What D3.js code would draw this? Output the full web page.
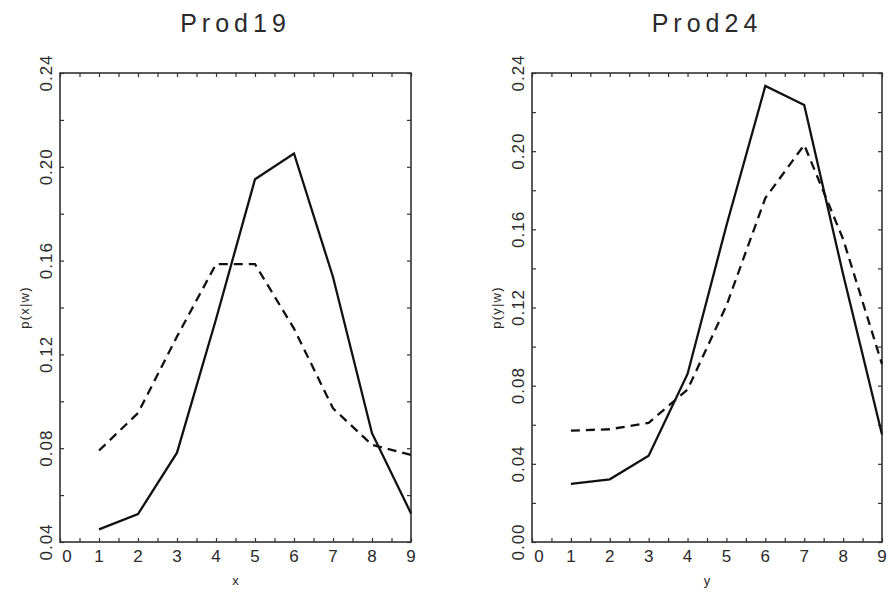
<!DOCTYPE html>
<html>
<head>
<meta charset="utf-8">
<script src="https://cdn.jsdelivr.net/npm/d3@7"></script>
<style>
  html, body { margin: 0; padding: 0; background: #fff; }
  svg { display: block; }
  text { font-family: "Liberation Sans", Arial, sans-serif; fill: #2a2a2a; }
</style>
</head>
<body>
<svg id="chart" width="889" height="593"></svg>
<script>
// ---- data ----
const xValues = [1, 2, 3, 4, 5, 6, 7, 8, 9];
const xTickLabels = [0, 1, 2, 3, 4, 5, 6, 7, 8, 9];

const prod19Title = "Prod19";
const prod19XLabel = "x";
const prod19YLabel = "p(x|w)";
const prod19Solid  = [0.0454, 0.0519, 0.0781, 0.1350, 0.1947, 0.2057, 0.1530, 0.0864, 0.0522];
const prod19Dashed = [0.0790, 0.0950, 0.1276, 0.1585, 0.1585, 0.1310, 0.0970, 0.0814, 0.0771];
const prod19YTicks = [0.04, 0.08, 0.12, 0.16, 0.20, 0.24];

const prod24Title = "Prod24";
const prod24XLabel = "y";
const prod24YLabel = "p(y|w)";
const prod24Solid  = [0.0297, 0.0321, 0.0442, 0.0860, 0.1620, 0.2334, 0.2236, 0.1370, 0.0550];
const prod24Dashed = [0.0570, 0.0577, 0.0610, 0.0780, 0.1210, 0.1760, 0.2032, 0.1550, 0.0910];
const prod24YTicks = [0.00, 0.04, 0.08, 0.12, 0.16, 0.20, 0.24];

const svg = d3.select("#chart");

function panel(opts) {
  const { left, right, top, bottom, yDomain, yTicks, title, xLabel, yLabel, solid, dashed } = opts;
  const x = d3.scaleLinear().domain([0, 9]).range([left, right]);
  const y = d3.scaleLinear().domain(yDomain).range([bottom, top]);
  const g = svg.append("g");

  const xMinor = d3.range(0, 9.0001, 0.5);
  const yMinor = d3.range(yDomain[0], yDomain[1] + 1e-9, 0.02);

  // inward ticks, all four sides
  const tk = 4;
  g.append("g").attr("transform", `translate(0,${bottom})`)
    .call(d3.axisBottom(x).tickValues(xMinor).tickSize(-tk).tickFormat(""))
    .call(s => s.select(".domain").remove());
  g.append("g").attr("transform", `translate(0,${top})`)
    .call(d3.axisTop(x).tickValues(xMinor).tickSize(-tk).tickFormat(""))
    .call(s => s.select(".domain").remove());
  g.append("g").attr("transform", `translate(${left},0)`)
    .call(d3.axisLeft(y).tickValues(yMinor).tickSize(-tk).tickFormat(""))
    .call(s => s.select(".domain").remove());
  g.append("g").attr("transform", `translate(${right},0)`)
    .call(d3.axisRight(y).tickValues(yMinor).tickSize(-tk).tickFormat(""))
    .call(s => s.select(".domain").remove());
  g.selectAll(".tick line").attr("stroke", "#333").attr("stroke-width", 1.2);

  // frame
  g.append("rect")
    .attr("x", left).attr("y", top)
    .attr("width", right - left).attr("height", bottom - top)
    .attr("fill", "none").attr("stroke", "#333").attr("stroke-width", 1.6);

  // x tick labels
  g.selectAll(".xl").data(xTickLabels).enter().append("text")
    .attr("x", d => x(d) + (d === 0 ? 7 : 0))
    .attr("y", bottom + 20)
    .attr("text-anchor", "middle")
    .attr("font-size", 17)
    .text(d => d);

  // y tick labels (rotated)
  g.selectAll(".yl").data(yTicks).enter().append("text")
    .attr("transform", d => `translate(${left - 8.5},${y(d)}) rotate(-90)`)
    .attr("text-anchor", "middle")
    .attr("font-size", 17)
    .attr("letter-spacing", 1)
    .text(d => d3.format(".2f")(d));

  // titles
  g.append("text")
    .attr("x", (left + right) / 2).attr("y", 32)
    .attr("text-anchor", "middle")
    .attr("font-size", 25)
    .attr("letter-spacing", 5)
    .text(title);

  g.append("text")
    .attr("x", (left + right) / 2).attr("y", 585)
    .attr("text-anchor", "middle")
    .attr("font-size", 13)
    .text(xLabel);

  g.append("text")
    .attr("transform", `translate(${left - 31},${(top + bottom) / 2}) rotate(-90)`)
    .attr("text-anchor", "middle")
    .attr("font-size", 13)
    .attr("letter-spacing", 1.2)
    .text(yLabel);

  const line = d3.line().x((d, i) => x(xValues[i])).y(d => y(d));

  g.append("path").datum(dashed)
    .attr("d", line).attr("fill", "none")
    .attr("stroke", "#111").attr("stroke-width", 2.3)
    .attr("stroke-dasharray", "9,6");
  g.append("path").datum(solid)
    .attr("d", line).attr("fill", "none")
    .attr("stroke", "#111").attr("stroke-width", 2.3)
    .attr("stroke-linejoin", "miter");
}

panel({ left: 60, right: 411, top: 73, bottom: 542, yDomain: [0.04, 0.24], yTicks: prod19YTicks,
        title: prod19Title, xLabel: prod19XLabel, yLabel: prod19YLabel, solid: prod19Solid, dashed: prod19Dashed });
panel({ left: 532, right: 882, top: 73, bottom: 542, yDomain: [0.00, 0.24], yTicks: prod24YTicks,
        title: prod24Title, xLabel: prod24XLabel, yLabel: prod24YLabel, solid: prod24Solid, dashed: prod24Dashed });
</script>
</body>
</html>
